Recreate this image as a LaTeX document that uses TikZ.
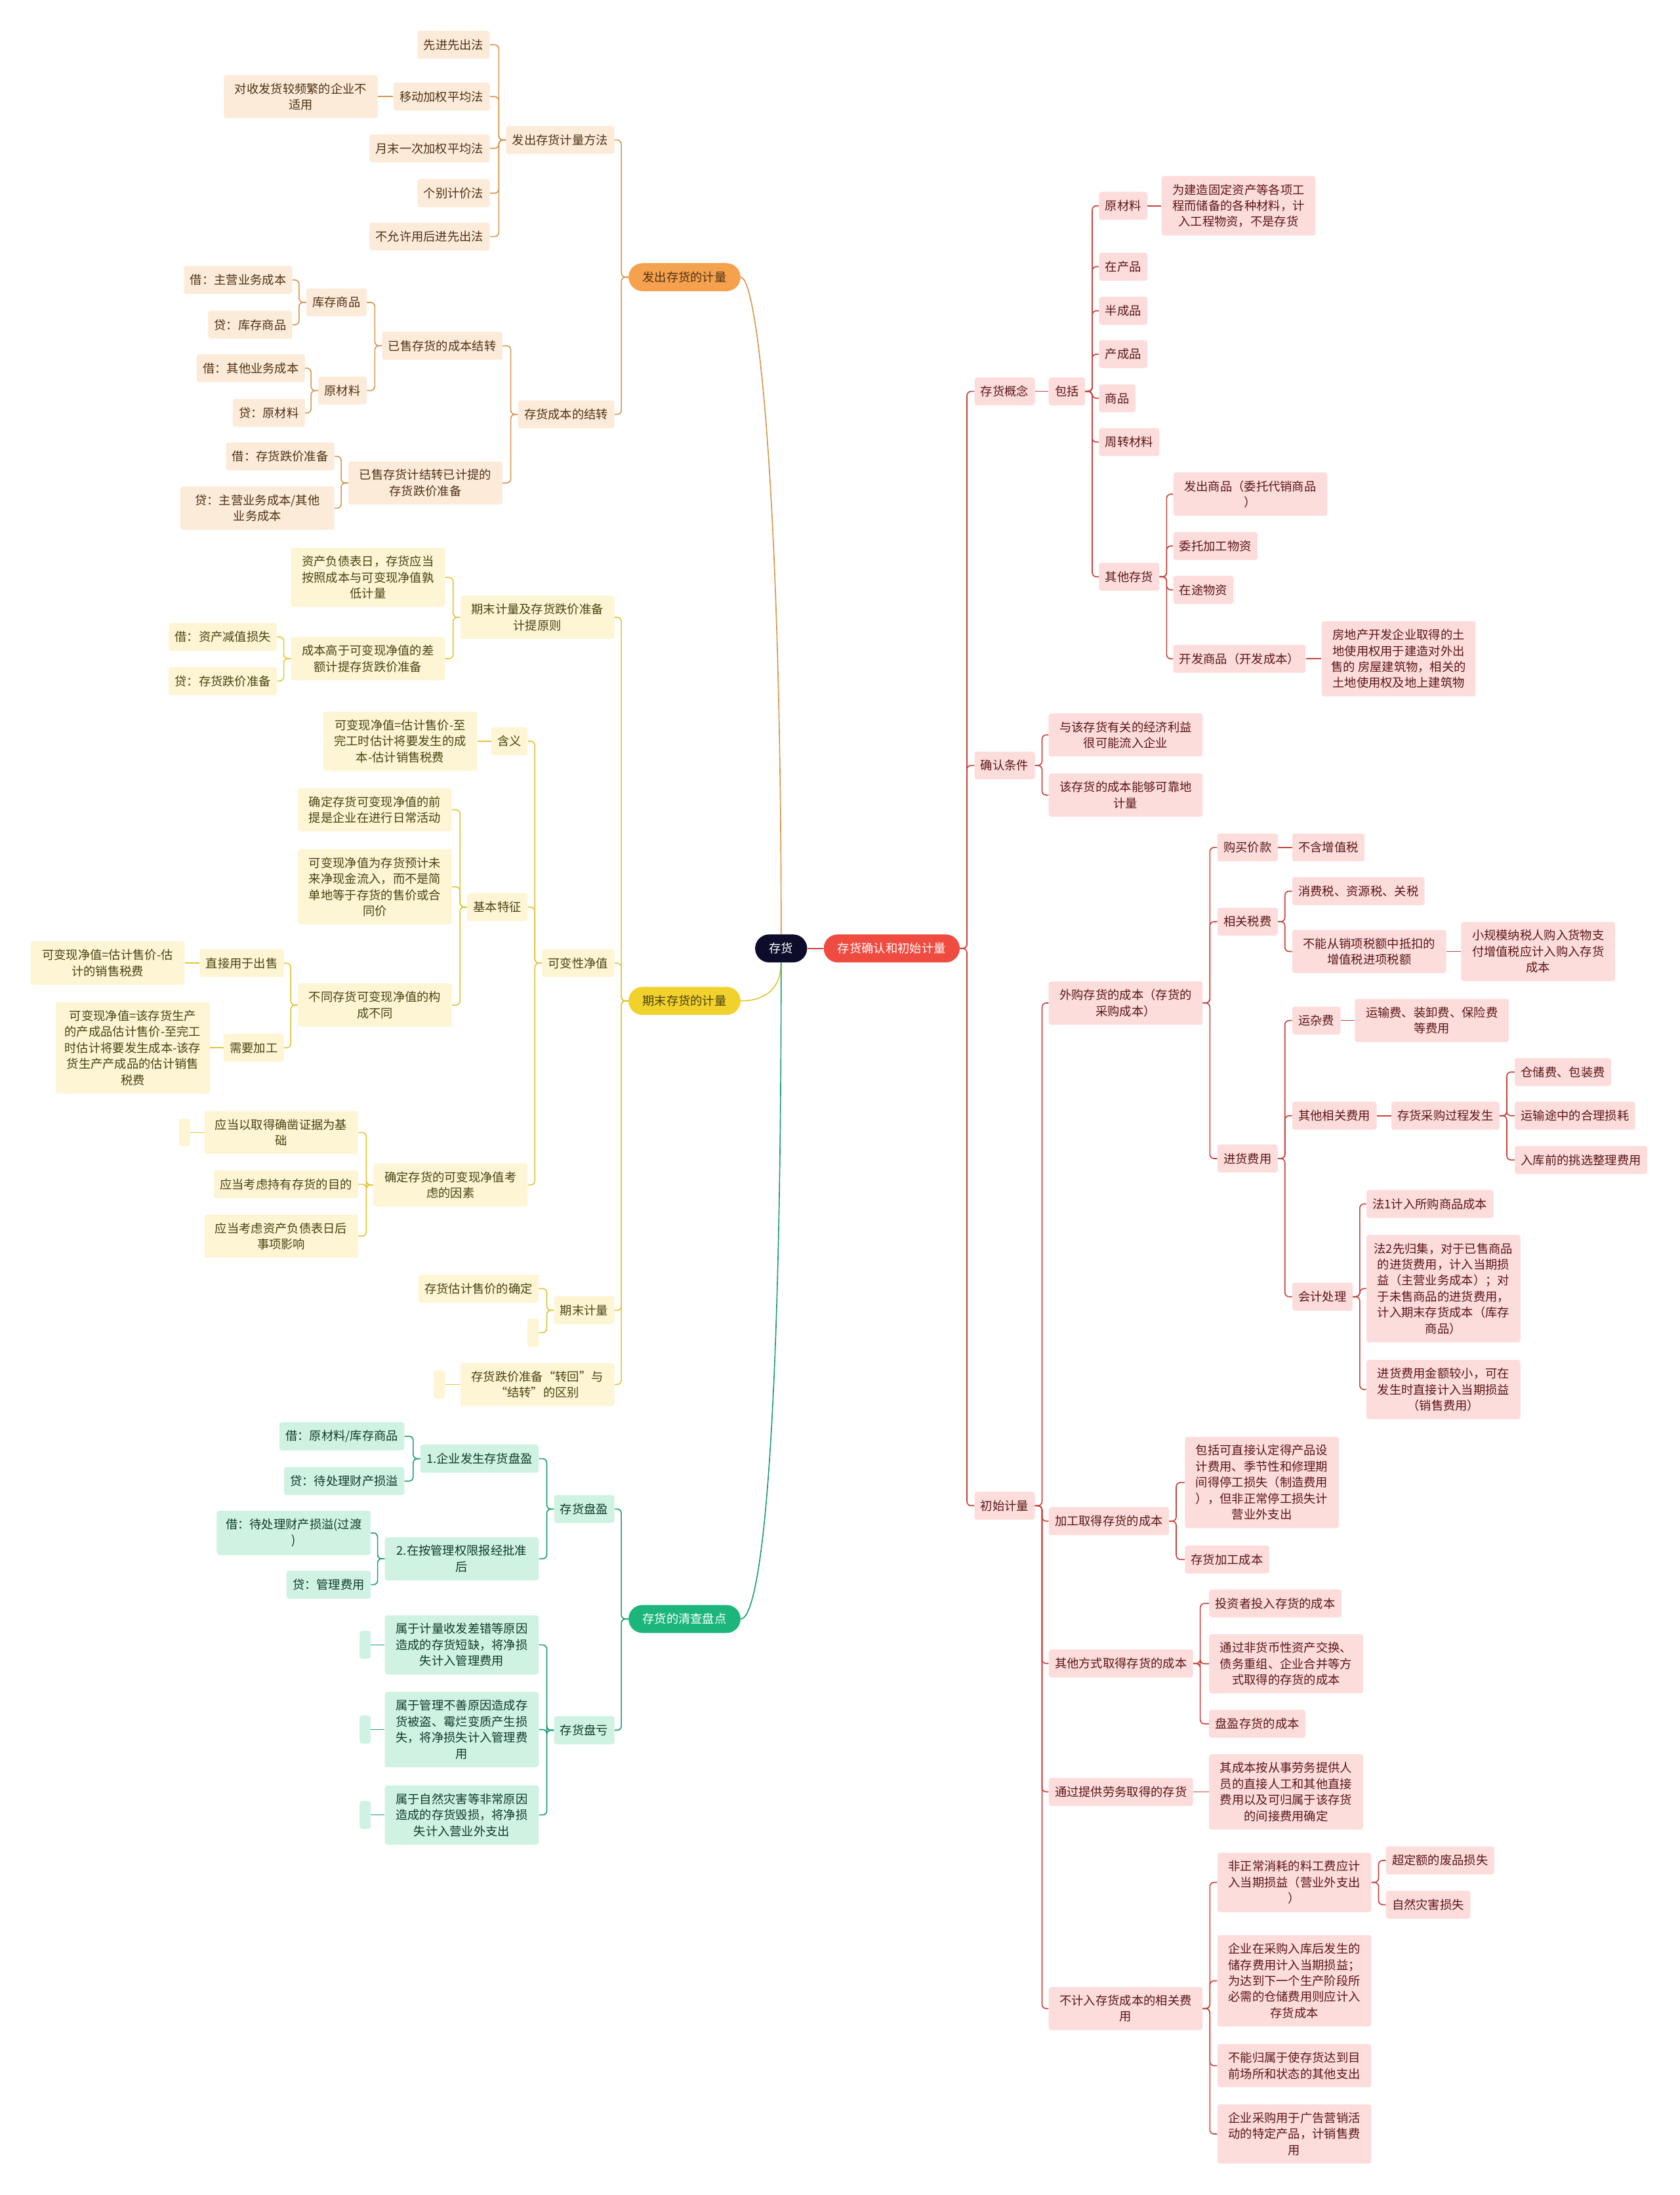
\documentclass[tikz,border=0pt]{standalone}
\usepackage{fontspec}
\setmainfont{Noto Sans CJK SC}
\definecolor{invRoot}{HTML}{0D0C2B}
\definecolor{invRed}{HTML}{F04B40}
\definecolor{invRedLine}{HTML}{C9423A}
\definecolor{invRedFill}{HTML}{FDDCDC}
\definecolor{invRedText}{HTML}{5A1616}
\definecolor{invOrange}{HTML}{F6A14E}
\definecolor{invOrangeLine}{HTML}{D9954C}
\definecolor{invOrangeFill}{HTML}{FDEBDA}
\definecolor{invOrangeText}{HTML}{4F3215}
\definecolor{invYellow}{HTML}{F1D12B}
\definecolor{invYellowLine}{HTML}{E2C535}
\definecolor{invYellowFill}{HTML}{FDF5D3}
\definecolor{invYellowText}{HTML}{4A4313}
\definecolor{invGreen}{HTML}{1CB67A}
\definecolor{invGreenLine}{HTML}{1E9E70}
\definecolor{invGreenFill}{HTML}{CFF2E3}
\definecolor{invGreenText}{HTML}{0F3B2B}
\tikzset{
  base/.style={rounded corners=2.5pt, align=center, inner xsep=0.22cm, inner ysep=0.285cm,
               minimum height=1cm, font=\fontsize{12.2}{16.3}\selectfont},
  pill/.style={rounded corners=0.5cm, align=center, inner xsep=0.5cm, inner ysep=0.285cm,
               minimum height=1cm, font=\fontsize{12.2}{16.3}\selectfont},
  wide/.style={minimum width=5.5cm},
  blank/.style={minimum width=0.4cm, inner sep=0pt},
  oleaf/.style={base, fill=invOrangeFill, text=invOrangeText},
  yleaf/.style={base, fill=invYellowFill, text=invYellowText},
  gleaf/.style={base, fill=invGreenFill, text=invGreenText},
  rleaf/.style={base, fill=invRedFill, text=invRedText},
  olink/.style={draw=invOrangeLine, line width=1.1pt, rounded corners=0.15cm},
  ylink/.style={draw=invYellowLine, line width=1.1pt, rounded corners=0.15cm},
  glink/.style={draw=invGreenLine, line width=1.1pt, rounded corners=0.15cm},
  rlink/.style={draw=invRedLine, line width=1.1pt, rounded corners=0.15cm},
}

\begin{document}
\begin{tikzpicture}[x=0.05cm, y=-0.05cm]
  \useasboundingbox (0,0) rectangle (1200,1568);
  % centre
  \node[pill, fill=invRoot, text=white] (root) at (558,677.5) {存货};
  \node[pill, fill=invRed, text=white] (qr) at (637,677.5) {存货确认和初始计量};
  \node[pill, fill=invOrange, text=invOrangeText] (fa) at (489,198) {发出存货的计量};
  \node[pill, fill=invYellow, text=invYellowText] (qm) at (489,715) {期末存货的计量};
  \node[pill, fill=invGreen, text=white] (qc) at (489,1156.5) {存货的清查盘点};

  % 发出存货的计量
  \begin{scope}[every node/.style={oleaf, anchor=east}]
    \node (fa1) at (439,100) {发出存货计量方法};
    \node (fa11) at (350,32) {先进先出法};
    \node (fa12) at (350,69) {移动加权平均法};
    \node[wide] (fa121) at (270,69) {对收发货较频繁的企业不\\适用};
    \node (fa13) at (350,106) {月末一次加权平均法};
    \node (fa14) at (350,138) {个别计价法};
    \node (fa15) at (350,169) {不允许用后进先出法};
    \node (fa2) at (439,296) {存货成本的结转};
    \node (fa21) at (359,247) {已售存货的成本结转};
    \node (fa211) at (262,216) {库存商品};
    \node (fa2111) at (209,200) {借：主营业务成本};
    \node (fa2112) at (209,232) {贷：库存商品};
    \node (fa212) at (262,279) {原材料};
    \node (fa2121) at (218,263) {借：其他业务成本};
    \node (fa2122) at (218,295) {贷：原材料};
    \node[wide] (fa22) at (359,345) {已售存货计结转已计提的\\存货跌价准备};
    \node (fa221) at (239,326) {借：存货跌价准备};
    \node[wide] (fa222) at (239,363) {贷：主营业务成本/其他\\业务成本};
  \end{scope}

  % 期末存货的计量
  \begin{scope}[every node/.style={yleaf, anchor=east}]
    \node[wide] (qm1) at (439,441) {期末计量及存货跌价准备\\计提原则};
    \node[wide] (qm11) at (318,412.5) {资产负债表日，存货应当\\按照成本与可变现净值孰\\低计量};
    \node[wide] (qm12) at (318,470.5) {成本高于可变现净值的差\\额计提存货跌价准备};
    \node (qm121) at (198,455) {借：资产减值损失};
    \node (qm122) at (198,486.5) {贷：存货跌价准备};
    \node (qm2) at (439,688) {可变性净值};
    \node (qm21) at (377,529.5) {含义};
    \node[wide] (qm211) at (341,529.5) {可变现净值=估计售价-至\\完工时估计将要发生的成\\本-估计销售税费};
    \node (qm22) at (377,648) {基本特征};
    \node[wide] (qm221) at (323,578.5) {确定存货可变现净值的前\\提是企业在进行日常活动};
    \node[wide] (qm222) at (323,633.5) {可变现净值为存货预计未\\来净现金流入，而不是简\\单地等于存货的售价或合\\同价};
    \node[wide] (qm223) at (323,718) {不同存货可变现净值的构\\成不同};
    \node (qm2231) at (203,688) {直接用于出售};
    \node[wide] (qm22311) at (132,688) {可变现净值=估计售价-估\\计的销售税费};
    \node (qm2232) at (203,748.5) {需要加工};
    \node[wide] (qm22321) at (150,748.5) {可变现净值=该存货生产\\的产成品估计售价-至完工\\时估计将要发生成本-该存\\货生产产成品的估计销售\\税费};
    \node[wide] (qm23) at (377,846.5) {确定存货的可变现净值考\\虑的因素};
    \node[wide] (qm231) at (256,809) {应当以取得确凿证据为基\\础};
    \node[blank] (qm2311) at (136,809) {};
    \node (qm232) at (256,846) {应当考虑持有存货的目的};
    \node[wide] (qm233) at (256,883) {应当考虑资产负债表日后\\事项影响};
    \node (qm3) at (439,936) {期末计量};
    \node (qm31) at (385,920.5) {存货估计售价的确定};
    \node[blank] (qm32) at (385,952) {};
    \node[wide] (qm4) at (439,989) {存货跌价准备“转回”与\\“结转”的区别};
    \node[blank] (qm41) at (318,989) {};
  \end{scope}

  % 存货的清查盘点
  \begin{scope}[every node/.style={gleaf, anchor=east}]
    \node (qc1) at (439,1078) {存货盘盈};
    \node (qc11) at (385,1042) {1.企业发生存货盘盈};
    \node (qc111) at (289,1026) {借：原材料/库存商品};
    \node (qc112) at (289,1058) {贷：待处理财产损溢};
    \node[wide] (qc12) at (385,1113.5) {2.在按管理权限报经批准\\后};
    \node[wide] (qc121) at (265,1095) {借：待处理财产损溢(过渡\\)};
    \node (qc122) at (265,1132) {贷：管理费用};
    \node (qc2) at (439,1236) {存货盘亏};
    \node[wide] (qc21) at (385,1175) {属于计量收发差错等原因\\造成的存货短缺，将净损\\失计入管理费用};
    \node[wide] (qc22) at (385,1235.5) {属于管理不善原因造成存\\货被盗、霉烂变质产生损\\失，将净损失计入管理费\\用};
    \node[wide] (qc23) at (385,1296.5) {属于自然灾害等非常原因\\造成的存货毁损，将净损\\失计入营业外支出};
    \node[blank] (qc211) at (265,1175) {};
    \node[blank] (qc221) at (265,1235.5) {};
    \node[blank] (qc231) at (265,1296.5) {};
  \end{scope}

  % 存货确认和初始计量
  \begin{scope}[every node/.style={rleaf, anchor=west}]
    \node (ra) at (696,279.6) {存货概念};
    \node (ra1) at (749,279.6) {包括};
    \node (ra11) at (785,147) {原材料};
    \node[wide] (ra111) at (829.6,147) {为建造固定资产等各项工\\程而储备的各种材料，计\\入工程物资，不是存货};
    \node (ra12) at (785,190.5) {在产品};
    \node (ra13) at (785,222) {半成品};
    \node (ra14) at (785,253) {产成品};
    \node (ra15) at (785,284.5) {商品};
    \node (ra16) at (785,315.8) {周转材料};
    \node (ra17) at (785,412) {其他存货};
    \node[wide] (ra171) at (838,353) {发出商品（委托代销商品\\）};
    \node (ra172) at (838,390) {委托加工物资};
    \node (ra173) at (838,421.4) {在途物资};
    \node (ra174) at (838,470.6) {开发商品（开发成本）};
    \node[wide] (ra1741) at (944,470.6) {房地产开发企业取得的土\\地使用权用于建造对外出\\售的 房屋建筑物，相关的\\土地使用权及地上建筑物};
    \node (rb) at (696,546.8) {确认条件};
    \node[wide] (rb1) at (749,525) {与该存货有关的经济利益\\很可能流入企业};
    \node[wide] (rb2) at (749,568) {该存货的成本能够可靠地\\计量};
    \node (rc) at (696,1075.6) {初始计量};
    \node[wide] (rc1) at (749,716.5) {外购存货的成本（存货的\\采购成本）};
    \node (rc11) at (869.5,605.4) {购买价款};
    \node (rc111) at (923,605.4) {不含增值税};
    \node (rc12) at (869.5,658.4) {相关税费};
    \node (rc121) at (923,636.6) {消费税、资源税、关税};
    \node[wide] (rc122) at (923,679.7) {不能从销项税额中抵扣的\\增值税进项税额};
    \node[wide] (rc1221) at (1043.6,679.7) {小规模纳税人购入货物支\\付增值税应计入购入存货\\成本};
    \node (rc13) at (869.5,827.6) {进货费用};
    \node (rc131) at (923,729) {运杂费};
    \node[wide] (rc1311) at (967.7,729) {运输费、装卸费、保险费\\等费用};
    \node (rc132) at (923,797) {其他相关费用};
    \node (rc1321) at (993.7,797) {存货采购过程发生};
    \node (rc13211) at (1082,765.8) {仓储费、包装费};
    \node (rc13212) at (1082,797) {运输途中的合理损耗};
    \node (rc13213) at (1082,828.6) {入库前的挑选整理费用};
    \node (rc133) at (923,926.3) {会计处理};
    \node (rc1331) at (976,860) {法1计入所购商品成本};
    \node[wide] (rc1332) at (976,920.5) {法2先归集，对于已售商品\\的进货费用，计入当期损\\益（主营业务成本）；对\\于未售商品的进货费用，\\计入期末存货成本（库存\\商品）};
    \node[wide] (rc1333) at (976,992.6) {进货费用金额较小，可在\\发生时直接计入当期损益\\（销售费用）};
    \node (rc2) at (749,1086.6) {加工取得存货的成本};
    \node[wide] (rc21) at (846.3,1059) {包括可直接认定得产品设\\计费用、季节性和修理期\\间得停工损失（制造费用\\），但非正常停工损失计\\营业外支出};
    \node (rc22) at (846.3,1114) {存货加工成本};
    \node (rc3) at (749,1188.3) {其他方式取得存货的成本};
    \node (rc31) at (863.6,1145.4) {投资者投入存货的成本};
    \node[wide] (rc32) at (863.6,1188.5) {通过非货币性资产交换、\\债务重组、企业合并等方\\式取得的存货的成本};
    \node (rc33) at (863.6,1231.4) {盘盈存货的成本};
    \node (rc4) at (749,1280) {通过提供劳务取得的存货};
    \node[wide] (rc41) at (863.6,1280) {其成本按从事劳务提供人\\员的直接人工和其他直接\\费用以及可归属于该存货\\的间接费用确定};
    \node[wide] (rc5) at (749,1434.8) {不计入存货成本的相关费\\用};
    \node[wide] (rc51) at (869.5,1344.7) {非正常消耗的料工费应计\\入当期损益（营业外支出\\）};
    \node (rc511) at (989.9,1329) {超定额的废品损失};
    \node (rc512) at (989.9,1360.6) {自然灾害损失};
    \node[wide] (rc52) at (869.5,1415) {企业在采购入库后发生的\\储存费用计入当期损益；\\为达到下一个生产阶段所\\必需的仓储费用则应计入\\存货成本};
    \node[wide] (rc53) at (869.5,1475.6) {不能归属于使存货达到目\\前场所和状态的其他支出};
    \node[wide] (rc54) at (869.5,1524.4) {企业采购用于广告营销活\\动的特定产品，计销售费\\用};
  \end{scope}

  % main branches
  \draw[invRedLine, line width=1.1pt] (root.east) -- (qr.west);
  \draw[invOrangeLine, line width=1.1pt] (root.north) .. controls +(0,-318) and +(12,0) .. (fa.east);
  \draw[invYellowLine, line width=1.1pt] (root.south) .. controls +(0,18) and +(18,0) .. (qm.east);
  \draw[invGreenLine, line width=1.1pt] (root.south) .. controls +(0,380) and +(12,0) .. (qc.east);

  % left links
  \foreach \c in {fa1,fa2} \draw[olink] (fa.west) -- ++(-5,0) |- (\c.east);
  \foreach \c in {fa11,fa12,fa13,fa14,fa15} \draw[olink] (fa1.west) -- ++(-5,0) |- (\c.east);
  \draw[olink] (fa12.west) -- (fa121.east);
  \foreach \c in {fa21,fa22} \draw[olink] (fa2.west) -- ++(-5,0) |- (\c.east);
  \foreach \c in {fa211,fa212} \draw[olink] (fa21.west) -- ++(-5,0) |- (\c.east);
  \foreach \c in {fa2111,fa2112} \draw[olink] (fa211.west) -- ++(-5,0) |- (\c.east);
  \foreach \c in {fa2121,fa2122} \draw[olink] (fa212.west) -- ++(-5,0) |- (\c.east);
  \foreach \c in {fa221,fa222} \draw[olink] (fa22.west) -- ++(-5,0) |- (\c.east);

  \foreach \c in {qm1,qm2,qm3,qm4} \draw[ylink] (qm.west) -- ++(-5,0) |- (\c.east);
  \foreach \c in {qm11,qm12} \draw[ylink] (qm1.west) -- ++(-5,0) |- (\c.east);
  \foreach \c in {qm121,qm122} \draw[ylink] (qm12.west) -- ++(-5,0) |- (\c.east);
  \foreach \c in {qm21,qm22,qm23} \draw[ylink] (qm2.west) -- ++(-5,0) |- (\c.east);
  \draw[ylink] (qm21.west) -- (qm211.east);
  \foreach \c in {qm221,qm222,qm223} \draw[ylink] (qm22.west) -- ++(-5,0) |- (\c.east);
  \foreach \c in {qm2231,qm2232} \draw[ylink] (qm223.west) -- ++(-5,0) |- (\c.east);
  \draw[ylink] (qm2231.west) -- (qm22311.east);
  \draw[ylink] (qm2232.west) -- (qm22321.east);
  \foreach \c in {qm231,qm232,qm233} \draw[ylink] (qm23.west) -- ++(-5,0) |- (\c.east);
  \draw[ylink] (qm231.west) -- (qm2311.east);
  \foreach \c in {qm31,qm32} \draw[ylink] (qm3.west) -- ++(-5,0) |- (\c.east);
  \draw[ylink] (qm4.west) -- (qm41.east);

  \foreach \c in {qc1,qc2} \draw[glink] (qc.west) -- ++(-5,0) |- (\c.east);
  \foreach \c in {qc11,qc12} \draw[glink] (qc1.west) -- ++(-5,0) |- (\c.east);
  \foreach \c in {qc111,qc112} \draw[glink] (qc11.west) -- ++(-5,0) |- (\c.east);
  \foreach \c in {qc121,qc122} \draw[glink] (qc12.west) -- ++(-5,0) |- (\c.east);
  \foreach \c in {qc21,qc22,qc23} \draw[glink] (qc2.west) -- ++(-5,0) |- (\c.east);
  \foreach \a/\b in {qc21/qc211,qc22/qc221,qc23/qc231} \draw[glink] (\a.west) -- (\b.east);

  % right links
  \foreach \c in {ra,rb,rc} \draw[rlink] (qr.east) -- ++(5,0) |- (\c.west);
  \draw[rlink] (ra.east) -- (ra1.west);
  \foreach \c in {ra11,ra12,ra13,ra14,ra15,ra16,ra17} \draw[rlink] (ra1.east) -- ++(5,0) |- (\c.west);
  \draw[rlink] (ra11.east) -- (ra111.west);
  \foreach \c in {ra171,ra172,ra173,ra174} \draw[rlink] (ra17.east) -- ++(5,0) |- (\c.west);
  \draw[rlink] (ra174.east) -- (ra1741.west);
  \foreach \c in {rb1,rb2} \draw[rlink] (rb.east) -- ++(5,0) |- (\c.west);
  \foreach \c in {rc1,rc2,rc3,rc4,rc5} \draw[rlink] (rc.east) -- ++(5,0) |- (\c.west);
  \foreach \c in {rc11,rc12,rc13} \draw[rlink] (rc1.east) -- ++(5,0) |- (\c.west);
  \draw[rlink] (rc11.east) -- (rc111.west);
  \foreach \c in {rc121,rc122} \draw[rlink] (rc12.east) -- ++(5,0) |- (\c.west);
  \draw[rlink] (rc122.east) -- (rc1221.west);
  \foreach \c in {rc131,rc132,rc133} \draw[rlink] (rc13.east) -- ++(5,0) |- (\c.west);
  \draw[rlink] (rc131.east) -- (rc1311.west);
  \draw[rlink] (rc132.east) -- (rc1321.west);
  \foreach \c in {rc13211,rc13212,rc13213} \draw[rlink] (rc1321.east) -- ++(5,0) |- (\c.west);
  \foreach \c in {rc1331,rc1332,rc1333} \draw[rlink] (rc133.east) -- ++(5,0) |- (\c.west);
  \foreach \c in {rc21,rc22} \draw[rlink] (rc2.east) -- ++(5,0) |- (\c.west);
  \foreach \c in {rc31,rc32,rc33} \draw[rlink] (rc3.east) -- ++(5,0) |- (\c.west);
  \draw[rlink] (rc4.east) -- (rc41.west);
  \foreach \c in {rc51,rc52,rc53,rc54} \draw[rlink] (rc5.east) -- ++(5,0) |- (\c.west);
  \foreach \c in {rc511,rc512} \draw[rlink] (rc51.east) -- ++(5,0) |- (\c.west);
\end{tikzpicture}
\end{document}
